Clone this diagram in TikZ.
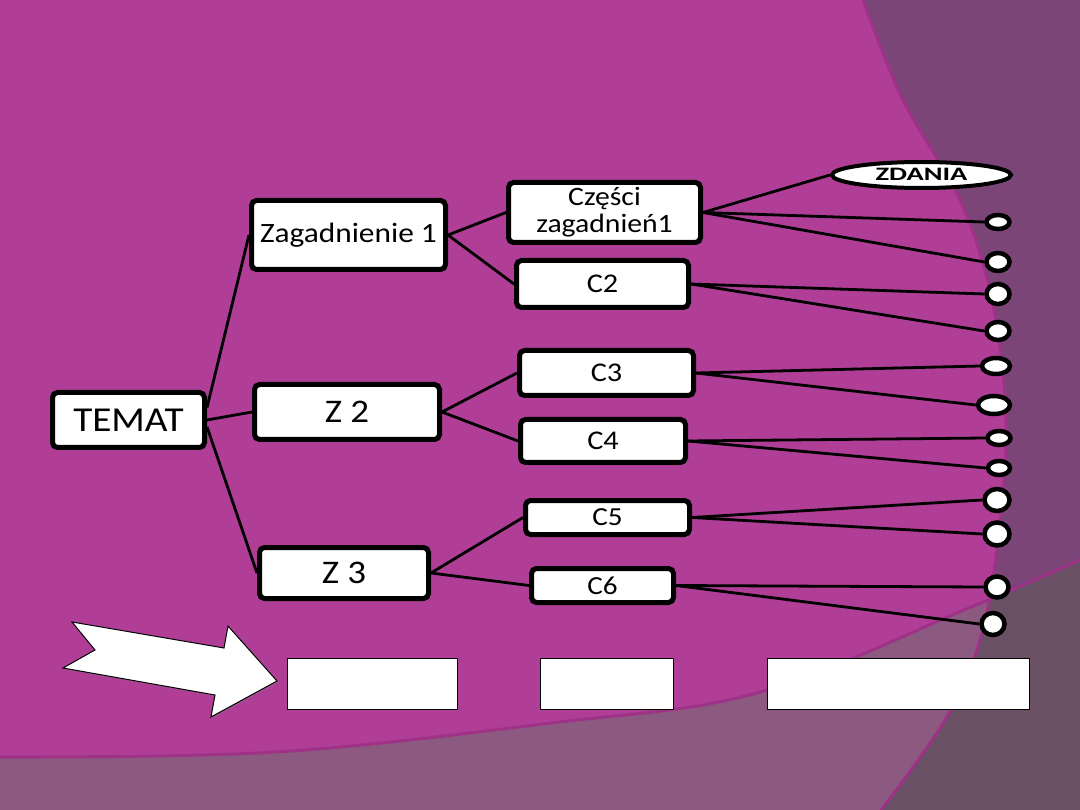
\documentclass[tikz,border=0pt]{standalone}
\usepackage{fontspec}
\setmainfont{Carlito}[FakeStretch=1.12]
\newfontfamily\zfont{Carlito}[FakeStretch=1.5]
\usetikzlibrary{shapes.geometric,shadows}
\definecolor{bgmag}{RGB}{176,62,150}
\definecolor{bgdark}{RGB}{123,69,119}
\definecolor{bglow}{RGB}{140,90,128}
\definecolor{bgover}{RGB}{105,80,101}
\definecolor{bgline}{RGB}{158,50,134}
\tikzset{
  box/.style={draw=black, line width=5pt, fill=white, rounded corners=5pt, inner sep=0pt, align=center,
    drop shadow={shadow xshift=2pt, shadow yshift=-2pt, opacity=0.35}},
  dot/.style={draw=black, line width=4.5pt, fill=white, ellipse, inner sep=0pt},
  conn/.style={line width=2.8pt, black},
  plainrect/.style={draw=black, line width=1pt, fill=white}
}
\begin{document}
\begin{tikzpicture}[x=1pt,y=-1pt]
\useasboundingbox (0,0) rectangle (1080,810);
% background
\fill[bgmag] (0,0) rectangle (1080,810);
\fill[bglow] (0,757) plot[smooth,tension=0.6] coordinates {(0,757) (276,752) (551,723) (757,693) (964,610) (1080,560)} -- (1080,810) -- (0,810) -- cycle;
\fill[bgdark] plot[smooth,tension=0.6] coordinates {(863,0) (903,100) (960,200) (992,300) (1006,420) (998,540) (980,640) (945,720) (881,810)} -- (1080,810) -- (1080,0) -- cycle;
\begin{scope}
\clip (0,757) plot[smooth,tension=0.6] coordinates {(0,757) (276,752) (551,723) (757,693) (964,610) (1080,560)} -- (1080,810) -- (0,810) -- cycle;
\fill[bgover] plot[smooth,tension=0.6] coordinates {(863,0) (903,100) (960,200) (992,300) (1006,420) (998,540) (980,640) (945,720) (881,810)} -- (1080,810) -- (1080,0) -- cycle;
\end{scope}
\draw[bgline, line width=3pt] plot[smooth,tension=0.6] coordinates {(0,757) (276,752) (551,723) (757,693) (964,610) (1080,560)};
\draw[bgline, line width=3pt] plot[smooth,tension=0.6] coordinates {(863,0) (903,100) (960,200) (992,300) (1006,420) (998,540) (980,640) (945,720) (881,810)};

% main boxes
\node[box, minimum width=152pt, minimum height=55pt, font=\fontsize{35}{40}\selectfont] (temat) at (128.5,420) {TEMAT};
\node[box, minimum width=194pt, minimum height=69pt, font=\fontsize{28}{33}\selectfont] (z1) at (348.5,235) {Zagadnienie 1};
\node[box, minimum width=185pt, minimum height=55pt, font=\fontsize{33}{38}\selectfont] (z2) at (347,412) {Z 2};
\node[box, minimum width=169pt, minimum height=51pt, font=\fontsize{33}{38}\selectfont] (z3) at (344,573) {Z 3};
\node[box, minimum width=192pt, minimum height=60pt, font=\fontsize{26.5}{28}\selectfont] (cz) at (604.5,212.5) {Części\\[-1pt]zagadnień1};
\node[box, minimum width=172pt, minimum height=47pt, font=\fontsize{27}{30}\selectfont] (c2) at (602.5,284) {C2};
\node[box, minimum width=174pt, minimum height=45pt, font=\fontsize{27}{30}\selectfont] (c3) at (606.5,373) {C3};
\node[box, minimum width=165pt, minimum height=43pt, font=\fontsize{27}{30}\selectfont] (c4) at (603,441) {C4};
\node[box, minimum width=164pt, minimum height=34pt, font=\fontsize{26}{28}\selectfont] (c5) at (607.5,517.5) {C5};
\node[box, minimum width=142pt, minimum height=34pt, font=\fontsize{26}{28}\selectfont] (c6) at (602.5,585.5) {C6};

% ZDANIA
\node[dot, line width=4pt, minimum width=179pt, minimum height=26pt, text height=12pt, text depth=0pt,
  font=\zfont\bfseries\fontsize{19}{21}\selectfont,
  drop shadow={shadow xshift=2pt, shadow yshift=-2pt, opacity=0.35}] (zd) at (921.5,175) {ZDANIA};

% small circles
\node[dot, minimum width=23pt, minimum height=14pt] (d1) at (998,222) {};
\node[dot, minimum width=23pt, minimum height=18pt] (d2) at (998,262) {};
\node[dot, minimum width=23pt, minimum height=20pt] (d3) at (998,294) {};
\node[dot, minimum width=23pt, minimum height=18pt] (d4) at (998,331) {};
\node[dot, minimum width=28pt, minimum height=16pt] (d5) at (996,366) {};
\node[dot, minimum width=32pt, minimum height=18pt] (d6) at (994,405) {};
\node[dot, minimum width=23pt, minimum height=14pt] (d7) at (999,438) {};
\node[dot, minimum width=22pt, minimum height=14pt] (d8) at (999,468) {};
\node[dot, minimum width=25pt, minimum height=22pt] (d9) at (997,500) {};
\node[dot, minimum width=25pt, minimum height=23pt] (d10) at (997,534) {};
\node[dot, minimum width=23pt, minimum height=21pt] (d11) at (997,587) {};
\node[dot, minimum width=23pt, minimum height=22pt] (d12) at (993,624) {};

% connectors
\draw[conn] (temat.9) -- (z1.west);
\draw[conn] (temat.east) -- (z2.west);
\draw[conn] (temat.-5) -- (z3.west);
\draw[conn] (z1.east) -- (cz.west);
\draw[conn] (z1.east) -- (c2.west);
\draw[conn] (z2.east) -- (c3.west);
\draw[conn] (z2.east) -- (c4.west);
\draw[conn] (z3.east) -- (c5.west);
\draw[conn] (z3.east) -- (c6.west);
\draw[conn] (cz.east) -- (zd.west);
\draw[conn] (cz.east) -- (d1.west);
\draw[conn] (cz.east) -- (d2.west);
\draw[conn] (c2.east) -- (d3.west);
\draw[conn] (c2.east) -- (d4.west);
\draw[conn] (c3.east) -- (d5.west);
\draw[conn] (c3.east) -- (d6.west);
\draw[conn] (c4.east) -- (d7.west);
\draw[conn] (c4.east) -- (d8.west);
\draw[conn] (c5.east) -- (d9.west);
\draw[conn] (c5.east) -- (d10.west);
\draw[conn] (c6.east) -- (d11.west);
\draw[conn] (c6.east) -- (d12.west);

% bottom arrow and boxes
\draw[plainrect, drop shadow={shadow xshift=1.5pt, shadow yshift=-1.5pt, opacity=0.3}] (72,622) -- (95,650) -- (63,668) -- (215,695) -- (211,717) -- (277,681) -- (228,626) -- (224,648) -- cycle;
\node[plainrect, minimum width=170pt, minimum height=51pt, inner sep=0pt] (r1) at (372,683.5) {};
\node[plainrect, minimum width=133pt, minimum height=51pt, inner sep=0pt] (r2) at (606.5,683.5) {};
\node[plainrect, minimum width=262pt, minimum height=51pt, inner sep=0pt] (r3) at (898.5,683.5) {};
\end{tikzpicture}
\end{document}
